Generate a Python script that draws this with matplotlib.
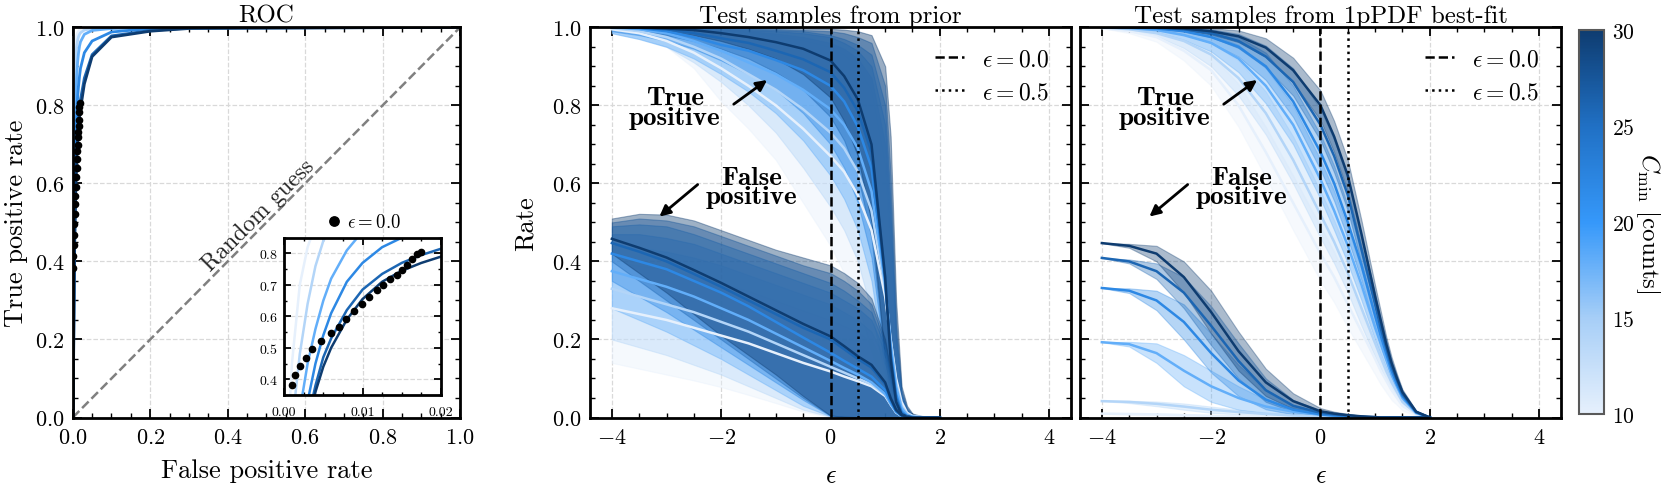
import numpy as np
import matplotlib
matplotlib.use("Agg")
import matplotlib.pyplot as plt
from matplotlib.colors import LinearSegmentedColormap, Normalize
from matplotlib.cm import ScalarMappable
from matplotlib.ticker import MultipleLocator, FormatStrFormatter

# C_min values of the curves (rows of every table below)
c_min = [10, 14, 18, 22, 26, 30]

# ---- ROC panel ----
fpr = [0, 0.001, 0.002, 0.003, 0.004, 0.005, 0.006, 0.008, 0.01, 0.0125,
       0.015, 0.0175, 0.02, 0.03, 0.05, 0.1, 0.2, 0.3, 1.0]
tpr = [
    [0, 0.45, 0.70, 0.82, 0.89, 0.925, 0.945, 0.967, 0.978, 0.986, 0.99, 0.993, 0.995, 0.998, 0.999, 1.0, 1.0, 1.0, 1.0],
    [0, 0.25, 0.48, 0.64, 0.76, 0.84, 0.88, 0.925, 0.95, 0.966, 0.976, 0.982, 0.986, 0.993, 0.997, 0.999, 1.0, 1.0, 1.0],
    [0, 0.12, 0.30, 0.45, 0.56, 0.65, 0.72, 0.81, 0.87, 0.91, 0.935, 0.952, 0.963, 0.982, 0.992, 0.997, 0.999, 1.0, 1.0],
    [0, 0.06, 0.18, 0.33, 0.45, 0.54, 0.61, 0.71, 0.77, 0.82, 0.85, 0.875, 0.895, 0.935, 0.965, 0.988, 0.997, 0.999, 1.0],
    [0, 0.04, 0.14, 0.27, 0.38, 0.47, 0.53, 0.62, 0.685, 0.735, 0.77, 0.795, 0.815, 0.87, 0.93, 0.978, 0.992, 0.998, 1.0],
    [0, 0.03, 0.12, 0.25, 0.36, 0.44, 0.50, 0.59, 0.655, 0.71, 0.745, 0.77, 0.79, 0.855, 0.925, 0.975, 0.99, 0.997, 1.0],
]
# points at eps = 0
fpr_eps0 = [0.00106, 0.00145, 0.00204, 0.00281, 0.00357, 0.00468, 0.0060, 0.00698, 0.00791, 0.00885, 0.00991,
            0.01085, 0.01183, 0.0126, 0.01353, 0.01438, 0.01502, 0.01566, 0.0163, 0.01694, 0.01745]
tpr_eps0 = [0.382, 0.414, 0.442, 0.469, 0.496, 0.521, 0.546, 0.567, 0.592, 0.617, 0.640,
            0.662, 0.683, 0.699, 0.720, 0.731, 0.747, 0.763, 0.784, 0.797, 0.805]

# ---- rate vs epsilon ----
eps = [-4, -3.5, -3, -2.5, -2, -1.5, -1, -0.5, 0, 0.25, 0.5, 0.75, 1.0, 1.1, 1.2, 1.3, 1.4, 1.5, 1.75, 2.0]

# test samples from prior
tp_prior = [
    [0.995, 0.985, 0.965, 0.935, 0.895, 0.85, 0.80, 0.74, 0.67, 0.63, 0.57, 0.48, 0.31, 0.2, 0.1, 0.04, 0.012, 0.004, 0, 0],
    [0.998, 0.99, 0.975, 0.95, 0.92, 0.88, 0.84, 0.79, 0.73, 0.69, 0.63, 0.53, 0.33, 0.2, 0.09, 0.03, 0.01, 0.003, 0, 0],
    [1.0, 0.995, 0.985, 0.965, 0.94, 0.91, 0.88, 0.84, 0.79, 0.75, 0.69, 0.58, 0.34, 0.19, 0.08, 0.025, 0.007, 0.002, 0, 0],
    [1.0, 0.998, 0.99, 0.975, 0.955, 0.94, 0.916, 0.89, 0.85, 0.81, 0.745, 0.64, 0.35, 0.17, 0.06, 0.015, 0.004, 0.001, 0, 0],
    [1.0, 0.999, 0.995, 0.985, 0.972, 0.96, 0.94, 0.918, 0.885, 0.845, 0.785, 0.68, 0.36, 0.16, 0.05, 0.01, 0.003, 0, 0, 0],
    [1.0, 1.0, 0.997, 0.993, 0.985, 0.975, 0.962, 0.945, 0.915, 0.875, 0.815, 0.70, 0.36, 0.15, 0.04, 0.008, 0.002, 0, 0, 0],
]
tp_prior_lo = [
    [0.99, 0.975, 0.95, 0.895, 0.81, 0.74, 0.66, 0.55, 0.44, 0.37, 0.29, 0.17, 0.06, 0.03, 0.012, 0.004, 0.001, 0, 0, 0],
    [0.985, 0.97, 0.95, 0.91, 0.86, 0.80, 0.73, 0.64, 0.54, 0.48, 0.40, 0.27, 0.1, 0.045, 0.015, 0.004, 0.001, 0, 0, 0],
    [0.985, 0.97, 0.95, 0.92, 0.88, 0.835, 0.78, 0.71, 0.62, 0.56, 0.48, 0.35, 0.12, 0.05, 0.015, 0.004, 0.001, 0, 0, 0],
    [0.99, 0.98, 0.965, 0.945, 0.915, 0.88, 0.84, 0.78, 0.70, 0.64, 0.55, 0.41, 0.14, 0.05, 0.013, 0.003, 0, 0, 0, 0],
    [0.995, 0.99, 0.98, 0.965, 0.945, 0.92, 0.885, 0.84, 0.77, 0.71, 0.62, 0.46, 0.15, 0.05, 0.012, 0.002, 0, 0, 0, 0],
    [0.998, 0.995, 0.99, 0.98, 0.965, 0.945, 0.92, 0.88, 0.82, 0.76, 0.67, 0.5, 0.15, 0.05, 0.01, 0.002, 0, 0, 0, 0],
]
tp_prior_hi = [
    [1.0, 0.999, 0.998, 0.996, 0.992, 0.987, 0.98, 0.968, 0.95, 0.93, 0.9, 0.84, 0.65, 0.4, 0.16, 0.05, 0.016, 0.005, 0.001, 0],
    [1.0, 1.0, 0.999, 0.997, 0.994, 0.99, 0.984, 0.975, 0.96, 0.945, 0.92, 0.87, 0.7, 0.45, 0.18, 0.055, 0.018, 0.006, 0.001, 0],
    [1.0, 1.0, 0.999, 0.998, 0.996, 0.993, 0.99, 0.985, 0.975, 0.96, 0.94, 0.9, 0.75, 0.5, 0.2, 0.06, 0.02, 0.007, 0.001, 0],
    [1.0, 1.0, 1.0, 0.999, 0.998, 0.996, 0.993, 0.99, 0.98, 0.97, 0.955, 0.93, 0.8, 0.55, 0.22, 0.06, 0.02, 0.007, 0.001, 0],
    [1.0, 1.0, 1.0, 1.0, 0.999, 0.998, 0.996, 0.993, 0.99, 0.985, 0.975, 0.96, 0.85, 0.62, 0.25, 0.07, 0.025, 0.008, 0.001, 0],
    [1.0, 1.0, 1.0, 1.0, 1.0, 1.0, 0.999, 0.998, 0.996, 0.994, 0.99, 0.98, 0.9, 0.72, 0.3, 0.08, 0.03, 0.01, 0.001, 0],
]
fp_prior = [
    [0.28, 0.265, 0.25, 0.23, 0.21, 0.19, 0.165, 0.14, 0.118, 0.105, 0.093, 0.08, 0.055, 0.033, 0.013, 0.004, 0.001, 0, 0, 0],
    [0.33, 0.31, 0.29, 0.27, 0.245, 0.22, 0.19, 0.16, 0.13, 0.115, 0.1, 0.085, 0.058, 0.034, 0.013, 0.004, 0.001, 0, 0, 0],
    [0.375, 0.355, 0.335, 0.31, 0.28, 0.25, 0.215, 0.18, 0.145, 0.127, 0.11, 0.09, 0.06, 0.035, 0.014, 0.004, 0.001, 0, 0, 0],
    [0.42, 0.40, 0.38, 0.35, 0.32, 0.285, 0.245, 0.205, 0.166, 0.145, 0.125, 0.105, 0.07, 0.04, 0.016, 0.005, 0.001, 0, 0, 0],
    [0.447, 0.425, 0.40, 0.368, 0.335, 0.30, 0.265, 0.23, 0.20, 0.175, 0.15, 0.128, 0.085, 0.048, 0.018, 0.005, 0.001, 0, 0, 0],
    [0.458, 0.435, 0.41, 0.378, 0.345, 0.31, 0.275, 0.24, 0.208, 0.183, 0.157, 0.135, 0.09, 0.05, 0.02, 0.006, 0.002, 0, 0, 0],
]
fp_prior_lo = [
    [0.14, 0.125, 0.11, 0.095, 0.078, 0.058, 0.037, 0.015, 0.001, 0, 0, 0, 0, 0, 0, 0, 0, 0, 0, 0],
    [0.2, 0.18, 0.16, 0.135, 0.11, 0.08, 0.05, 0.02, 0.002, 0, 0, 0, 0, 0, 0, 0, 0, 0, 0, 0],
    [0.28, 0.25, 0.22, 0.185, 0.15, 0.11, 0.07, 0.03, 0.003, 0, 0, 0, 0, 0, 0, 0, 0, 0, 0, 0],
    [0.35, 0.31, 0.27, 0.225, 0.18, 0.135, 0.09, 0.045, 0.004, 0.001, 0, 0, 0, 0, 0, 0, 0, 0, 0, 0],
    [0.40, 0.35, 0.30, 0.25, 0.20, 0.15, 0.10, 0.05, 0.005, 0.002, 0.001, 0, 0, 0, 0, 0, 0, 0, 0, 0],
    [0.42, 0.37, 0.32, 0.265, 0.21, 0.16, 0.11, 0.055, 0.005, 0.002, 0.001, 0, 0, 0, 0, 0, 0, 0, 0, 0],
]
fp_prior_hi = [
    [0.40, 0.39, 0.38, 0.365, 0.345, 0.325, 0.3, 0.275, 0.25, 0.235, 0.22, 0.195, 0.13, 0.07, 0.025, 0.006, 0.001, 0, 0, 0],
    [0.44, 0.435, 0.425, 0.41, 0.39, 0.365, 0.34, 0.315, 0.29, 0.27, 0.25, 0.22, 0.15, 0.08, 0.028, 0.007, 0.002, 0, 0, 0],
    [0.47, 0.47, 0.46, 0.445, 0.42, 0.395, 0.37, 0.345, 0.32, 0.3, 0.28, 0.25, 0.165, 0.09, 0.03, 0.008, 0.002, 0, 0, 0],
    [0.49, 0.495, 0.49, 0.47, 0.445, 0.42, 0.395, 0.37, 0.345, 0.325, 0.3, 0.27, 0.18, 0.1, 0.035, 0.009, 0.002, 0, 0, 0],
    [0.50, 0.51, 0.505, 0.49, 0.465, 0.44, 0.415, 0.39, 0.37, 0.35, 0.325, 0.29, 0.19, 0.11, 0.04, 0.01, 0.002, 0, 0, 0],
    [0.51, 0.522, 0.52, 0.505, 0.48, 0.455, 0.43, 0.41, 0.39, 0.37, 0.345, 0.305, 0.2, 0.12, 0.045, 0.012, 0.003, 0.001, 0, 0],
]

# test samples from 1pPDF best-fit (mean and half-width of band)
tp_best = [
    [0.998, 0.99, 0.975, 0.94, 0.89, 0.80, 0.68, 0.55, 0.42, 0.36, 0.29, 0.22, 0.15, 0.12, 0.095, 0.07, 0.05, 0.03, 0.008, 0.0],
    [1.0, 0.995, 0.985, 0.965, 0.93, 0.87, 0.78, 0.66, 0.52, 0.45, 0.37, 0.28, 0.19, 0.155, 0.12, 0.09, 0.065, 0.04, 0.01, 0.0],
    [1.0, 0.998, 0.993, 0.98, 0.96, 0.92, 0.85, 0.75, 0.61, 0.53, 0.44, 0.34, 0.23, 0.19, 0.15, 0.11, 0.08, 0.05, 0.012, 0.0],
    [1.0, 1.0, 0.997, 0.99, 0.975, 0.95, 0.90, 0.81, 0.68, 0.60, 0.50, 0.39, 0.26, 0.21, 0.165, 0.12, 0.085, 0.055, 0.013, 0.0],
    [1.0, 1.0, 0.999, 0.995, 0.985, 0.965, 0.925, 0.86, 0.75, 0.67, 0.57, 0.43, 0.29, 0.23, 0.18, 0.13, 0.095, 0.06, 0.014, 0.0],
    [1.0, 1.0, 1.0, 0.997, 0.99, 0.977, 0.948, 0.89, 0.80, 0.72, 0.62, 0.47, 0.31, 0.25, 0.19, 0.14, 0.10, 0.065, 0.015, 0.0],
]
tp_best_err = [
    [0.0, 0.005, 0.012, 0.025, 0.04, 0.055, 0.065, 0.07, 0.07, 0.065, 0.06, 0.05, 0.04, 0.035, 0.03, 0.025, 0.018, 0.012, 0.004, 0.0],
    [0.0, 0.003, 0.008, 0.018, 0.03, 0.045, 0.055, 0.06, 0.06, 0.055, 0.05, 0.045, 0.035, 0.03, 0.025, 0.02, 0.015, 0.01, 0.003, 0.0],
    [0.0, 0.002, 0.005, 0.012, 0.022, 0.035, 0.045, 0.05, 0.05, 0.05, 0.045, 0.04, 0.032, 0.028, 0.022, 0.018, 0.013, 0.009, 0.003, 0.0],
    [0.0, 0.001, 0.003, 0.008, 0.015, 0.025, 0.035, 0.04, 0.045, 0.045, 0.042, 0.038, 0.03, 0.026, 0.021, 0.016, 0.012, 0.008, 0.002, 0.0],
    [0.0, 0.0, 0.002, 0.005, 0.01, 0.018, 0.028, 0.035, 0.04, 0.042, 0.04, 0.036, 0.028, 0.024, 0.02, 0.015, 0.011, 0.007, 0.002, 0.0],
    [0.0, 0.0, 0.001, 0.004, 0.008, 0.015, 0.024, 0.032, 0.038, 0.04, 0.04, 0.035, 0.028, 0.024, 0.019, 0.015, 0.011, 0.007, 0.002, 0.0],
]
fp_best = [
    [0.01, 0.009, 0.008, 0.006, 0.004, 0.003, 0.002, 0.001, 0.0005, 0, 0, 0, 0, 0, 0, 0, 0, 0, 0, 0],
    [0.042, 0.04, 0.035, 0.028, 0.02, 0.014, 0.009, 0.005, 0.003, 0.002, 0.001, 0, 0, 0, 0, 0, 0, 0, 0, 0],
    [0.193, 0.188, 0.165, 0.12, 0.08, 0.05, 0.028, 0.015, 0.007, 0.004, 0.002, 0.001, 0, 0, 0, 0, 0, 0, 0, 0],
    [0.332, 0.325, 0.30, 0.245, 0.165, 0.095, 0.046, 0.02, 0.008, 0.005, 0.003, 0.001, 0, 0, 0, 0, 0, 0, 0, 0],
    [0.409, 0.40, 0.375, 0.32, 0.235, 0.145, 0.07, 0.03, 0.012, 0.008, 0.005, 0.002, 0.001, 0, 0, 0, 0, 0, 0, 0],
    [0.447, 0.44, 0.42, 0.36, 0.27, 0.17, 0.09, 0.042, 0.016, 0.01, 0.006, 0.003, 0.001, 0, 0, 0, 0, 0, 0, 0],
]
fp_best_err = [
    [0.0, 0.002, 0.003, 0.003, 0.003, 0.002, 0.001, 0.001, 0, 0, 0, 0, 0, 0, 0, 0, 0, 0, 0, 0],
    [0.0, 0.003, 0.006, 0.008, 0.008, 0.006, 0.004, 0.003, 0.002, 0.001, 0, 0, 0, 0, 0, 0, 0, 0, 0, 0],
    [0.0, 0.006, 0.025, 0.04, 0.04, 0.03, 0.018, 0.01, 0.004, 0.002, 0.001, 0, 0, 0, 0, 0, 0, 0, 0, 0],
    [0.0, 0.006, 0.025, 0.045, 0.05, 0.04, 0.025, 0.012, 0.005, 0.003, 0.002, 0.001, 0, 0, 0, 0, 0, 0, 0, 0],
    [0.0, 0.005, 0.02, 0.04, 0.05, 0.045, 0.03, 0.015, 0.006, 0.004, 0.002, 0.001, 0, 0, 0, 0, 0, 0, 0, 0],
    [0.0, 0.005, 0.02, 0.04, 0.055, 0.05, 0.035, 0.02, 0.008, 0.005, 0.003, 0.002, 0.001, 0, 0, 0, 0, 0, 0, 0],
]

# ---- style ----
plt.rcParams.update({
    "font.family": "serif",
    "font.serif": ["cmr10"],
    "mathtext.fontset": "cm",
    "axes.formatter.use_mathtext": True,
    "font.size": 16,
    "axes.labelsize": 19,
    "axes.titlesize": 18,
    "legend.fontsize": 17,
    "axes.linewidth": 2.0,
    "xtick.direction": "in",
    "ytick.direction": "in",
    "xtick.top": True,
    "ytick.right": True,
    "xtick.minor.visible": True,
    "ytick.minor.visible": True,
    "xtick.major.size": 6.5,
    "ytick.major.size": 6.5,
    "xtick.minor.size": 3.5,
    "ytick.minor.size": 3.5,
    "xtick.major.width": 1.3,
    "ytick.major.width": 1.3,
    "xtick.minor.width": 1.0,
    "ytick.minor.width": 1.0,
    "xtick.major.pad": 7,
    "ytick.major.pad": 6,
})

cmap = LinearSegmentedColormap.from_list(
    "cmin", ["#e6f0fc", "#a6cef7", "#3598fa", "#2070c4", "#0e3c70"])
norm = Normalize(10, 30)
colors = [cmap(norm(c)) for c in c_min]


def style_axes(ax, xmaj, xmin, ymaj, ymin):
    ax.xaxis.set_major_locator(MultipleLocator(xmaj))
    ax.xaxis.set_minor_locator(MultipleLocator(xmin))
    ax.yaxis.set_major_locator(MultipleLocator(ymaj))
    ax.yaxis.set_minor_locator(MultipleLocator(ymin))
    ax.grid(True, which="major", ls="--", color="#d9d9d9", lw=0.9)
    ax.set_axisbelow(True)


fig = plt.figure(figsize=(16.61, 4.85), dpi=100)
ax_roc = fig.add_axes([0.0438, 0.1371, 0.2332, 0.8045])
ax_pr = fig.add_axes([0.3552, 0.1371, 0.2896, 0.8045])
ax_bf = fig.add_axes([0.6502, 0.1371, 0.2896, 0.8045])
cax = fig.add_axes([0.9506, 0.1443, 0.0151, 0.7918])

# ROC
style_axes(ax_roc, 0.2, 0.05, 0.2, 0.05)
ax_roc.plot([0, 1], [0, 1], ls="--", color="0.5", lw=1.8)
ax_roc.text(0.48, 0.52, "Random guess", rotation=45, ha="center", va="center",
            color="0.15", fontsize=17)
for row, col in zip(tpr, colors):
    ax_roc.plot(fpr, row, color=col, lw=2)
ax_roc.plot(fpr_eps0, tpr_eps0, "o", color="k", ms=4.5, zorder=5)
ax_roc.set_xlim(0, 1)
ax_roc.set_ylim(0, 1)
ax_roc.set_xlabel("False positive rate", labelpad=8)
ax_roc.set_ylabel("True positive rate", labelpad=5)
ax_roc.set_title("ROC", pad=4)

ins = ax_roc.inset_axes([0.5456, 0.0577, 0.405, 0.403])
for row, col in zip(tpr, colors):
    ins.plot(fpr, row, color=col, lw=1.8)
ins.plot(fpr_eps0, tpr_eps0, "o", color="k", ms=4.5, zorder=5, label=r"$\epsilon = 0.0$")
ins.set_xlim(0, 0.02)
ins.set_ylim(0.35, 0.85)
ins.xaxis.set_major_locator(MultipleLocator(0.01))
ins.xaxis.set_minor_locator(MultipleLocator(0.0025))
ins.yaxis.set_major_locator(MultipleLocator(0.1))
ins.yaxis.set_minor_locator(MultipleLocator(0.05))
ins.xaxis.set_major_formatter(FormatStrFormatter("%.2f"))
ins.grid(True, which="major", ls="--", color="#d9d9d9", lw=0.9)
ins.tick_params(labelsize=10)
ins.tick_params(axis="x", pad=8)
ins.tick_params(axis="y", pad=4)
ins.tick_params(which="major", length=5)
ins.tick_params(which="minor", length=2.5)
ins.legend(loc="lower center", bbox_to_anchor=(0.5, 0.97), frameon=False, fontsize=13.5,
           handletextpad=0.2, handlelength=1.0, markerscale=1.5, borderpad=0.1)

# rate panels
bold = dict(family="cmb10", size=19.5, ha="center", va="center", linespacing=0.8)
arrow = dict(arrowstyle="-|>", color="k", lw=2, mutation_scale=16, shrinkA=0, shrinkB=0)

for ax, title in [(ax_pr, "Test samples from prior"), (ax_bf, "Test samples from 1pPDF best-fit")]:
    style_axes(ax, 2, 0.5, 0.2, 0.05)
    ax.set_xlim(-4.4, 4.4)
    ax.set_ylim(0, 1)
    ax.set_title(title, pad=4)
    ax.set_xlabel(r"$\epsilon$", labelpad=12)
    ax.axvline(0, ls="--", color="k", lw=1.8, zorder=4, label=r"$\epsilon = 0.0$")
    ax.axvline(0.5, ls=":", color="k", lw=1.8, zorder=4, label=r"$\epsilon = 0.5$")
    ax.legend(loc="upper right", frameon=False, handlelength=1.2, handletextpad=0.8,
              labelspacing=0.45, borderaxespad=0.5)
    ax.text(-2.85, 0.795, "True\npositive", **bold)
    ax.text(-1.45, 0.59, "False\npositive", **bold)
    ax.annotate("", xy=(-1.16, 0.865), xytext=(-1.77, 0.803), arrowprops=arrow)
    ax.annotate("", xy=(-3.13, 0.515), xytext=(-2.43, 0.597), arrowprops=arrow)

# prior panel: true positive band and line per C_min, then false positive
for i, col in enumerate(colors):
    ax_pr.fill_between(eps, tp_prior_lo[i], tp_prior_hi[i], color=col, alpha=0.42, lw=0.8)
    ax_pr.plot(eps, tp_prior[i], color=col, lw=1.8)
for i, col in enumerate(colors):
    ax_pr.fill_between(eps, fp_prior_lo[i], fp_prior_hi[i], color=col, alpha=0.4, lw=0.8)
for i, col in enumerate(colors):
    ax_pr.plot(eps, fp_prior[i], color=col, lw=1.8)
ax_pr.set_ylabel("Rate", labelpad=10)

# best-fit panel
for i, col in enumerate(colors):
    m, e = np.array(tp_best[i]), np.array(tp_best_err[i])
    ax_bf.fill_between(eps, np.clip(m - e, 0, 1), np.clip(m + e, 0, 1), color=col, alpha=0.35, lw=0.8)
    m, e = np.array(fp_best[i]), np.array(fp_best_err[i])
    ax_bf.fill_between(eps, np.clip(m - e, 0, 1), np.clip(m + e, 0, 1), color=col, alpha=0.35, lw=0.8)
for i, col in enumerate(colors):
    ax_bf.plot(eps, tp_best[i], color=col, lw=1.8)
    ax_bf.plot(eps, fp_best[i], color=col, lw=1.8)
ax_bf.tick_params(labelleft=False)

# colorbar
cb = fig.colorbar(ScalarMappable(norm=norm, cmap=cmap), cax=cax)
cb.set_ticks([10, 15, 20, 25, 30])
cb.ax.minorticks_off()
cb.ax.tick_params(length=0, pad=6, labelsize=15.5)
cb.outline.set_edgecolor("0.35")
cb.outline.set_linewidth(1.5)
cb.set_label(r"$C_{\rm min}$ [counts]", rotation=270, labelpad=20, fontsize=18)

fig.savefig("out.png", dpi=100)
